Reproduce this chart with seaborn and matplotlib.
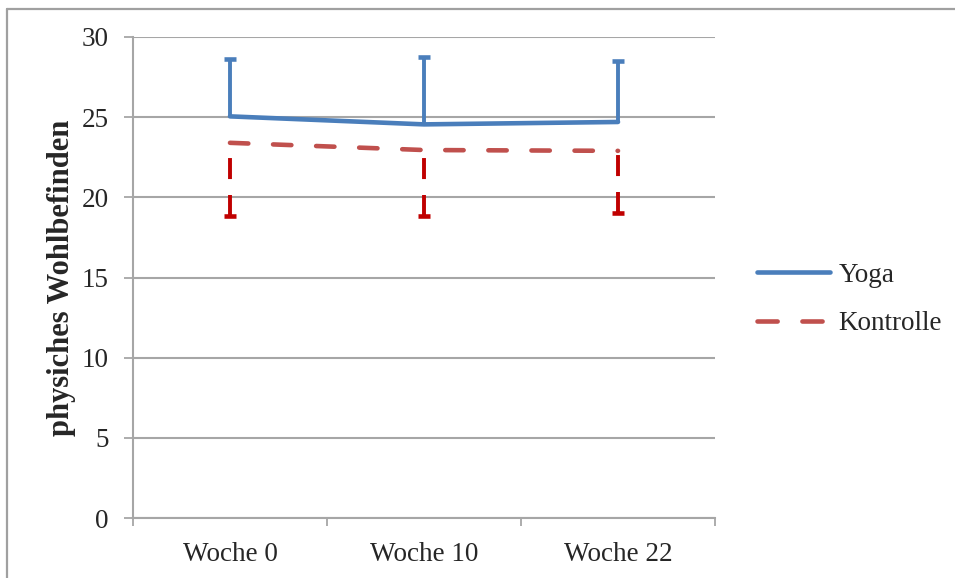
import matplotlib
matplotlib.use("Agg")
import matplotlib.pyplot as plt
from matplotlib.lines import Line2D
import seaborn as sns
import pandas as pd

# Messzeitpunkte und Gruppenwerte
weeks = ["Woche 0", "Woche 10", "Woche 22"]
yoga_mean = [25.05, 24.55, 24.7]
yoga_sd = [3.6, 4.2, 3.8]
kontrolle_mean = [23.4, 22.95, 22.9]
kontrolle_sd = [4.55, 4.1, 3.9]
y_ticks = [0, 5, 10, 15, 20, 25, 30]
groups = ["Yoga", "Kontrolle"]

blue = "#4A7EBB"
red_line = "#C0504D"
red_err = "#C00000"
grid_gray = "#A6A6A6"

sns.set_theme(style="white")
plt.rcParams["font.family"] = ["Liberation Serif", "DejaVu Serif"]

df = pd.DataFrame({
    "pos": list(range(len(weeks))) * 2,
    "wert": yoga_mean + kontrolle_mean,
    "gruppe": [groups[0]] * len(weeks) + [groups[1]] * len(weeks),
})

fig = plt.figure(figsize=(9.55, 5.78), dpi=100)
ax = fig.add_axes([133 / 955, 1 - 518 / 578, (715 - 133) / 955, (518 - 37) / 578])

lw = 3.3
sns.lineplot(data=df, x="pos", y="wert", hue="gruppe", style="gruppe",
             palette={"Yoga": blue, "Kontrolle": red_line},
             dashes={"Yoga": "", "Kontrolle": (4.0, 5.4)},
             linewidth=lw, ax=ax, legend=False, zorder=4)
for ln in ax.lines:
    ln.set_dash_capstyle("round")
    ln.set_solid_capstyle("round")
    ln.set_solid_joinstyle("round")

x = list(range(len(weeks)))
eb_kw = dict(fmt="none", elinewidth=2.8, capsize=4.3, capthick=3.3, zorder=3)
# Yoga: Standardabweichung nach oben
eb1 = ax.errorbar(x, yoga_mean, yerr=[[0] * 3, yoga_sd], ecolor=blue, **eb_kw)
# Kontrolle: Standardabweichung nach unten, gestrichelt
eb2 = ax.errorbar(x, kontrolle_mean, yerr=[kontrolle_sd, [0] * 3], ecolor=red_err, **eb_kw)
for coll in eb2[2]:
    coll.set_linestyle((0, (5.4, 4.1)))


def hide_mean_caps(caplines, means):
    # nur die Kappen am Ende der Fehlerbalken behalten, nicht am Mittelwert
    for cap in caplines:
        ys = cap.get_ydata()
        if all(abs(a - b) < 1e-9 for a, b in zip(ys, means)):
            cap.set_visible(False)


hide_mean_caps(eb1[1], yoga_mean)
hide_mean_caps(eb2[1], kontrolle_mean)

ax.set_xlim(-0.5, 2.5)
ax.set_ylim(0, 30)
ax.set_yticks(y_ticks)
ax.set_yticklabels([str(v) for v in y_ticks], fontsize=19.5)
ax.set_xticks([-0.5, 0.5, 1.5, 2.5])
ax.set_xticklabels([])
ax.set_xticks(x, minor=True)
ax.set_xticklabels(weeks, minor=True, fontsize=19.5)
ax.tick_params(axis="x", which="minor", length=0, pad=17)
ax.tick_params(axis="x", which="major", direction="out", length=6, width=1.3,
               color=grid_gray, bottom=True)
ax.tick_params(axis="y", direction="out", length=6.5, width=1.3, color=grid_gray,
               pad=11, left=True)
ax.set_xlabel("")
ax.set_ylabel("physiches Wohlbefinden", fontsize=22, fontweight="bold", labelpad=4)

ax.yaxis.grid(True, color=grid_gray, linewidth=1.5)
ax.set_axisbelow(True)
for side in ["top", "right"]:
    ax.spines[side].set_visible(False)
for side in ["left", "bottom"]:
    ax.spines[side].set_color(grid_gray)
    ax.spines[side].set_linewidth(1.5)

handles = [
    Line2D([], [], color=blue, linewidth=lw, solid_capstyle="round"),
    Line2D([], [], color=red_line, linewidth=lw, linestyle=(0, (4.4, 5.4)),
           dash_capstyle="round"),
]
fig.legend(handles, groups, loc="center left", bbox_to_anchor=(757 / 955, 1 - 299.5 / 578),
           frameon=False, fontsize=19.5, handlelength=2.7, handletextpad=0.3,
           borderpad=0, borderaxespad=0, labelspacing=0.88)

# Rahmen der Grafik (links und oben)
fig.add_artist(Line2D([7 / 955, 7 / 955], [0, 1 - 9 / 578], transform=fig.transFigure,
                      color="#A0A0A0", linewidth=1.6))
fig.add_artist(Line2D([7 / 955, 1], [1 - 9 / 578, 1 - 9 / 578], transform=fig.transFigure,
                      color="#A0A0A0", linewidth=1.6))

fig.savefig("out.png", dpi=100)
